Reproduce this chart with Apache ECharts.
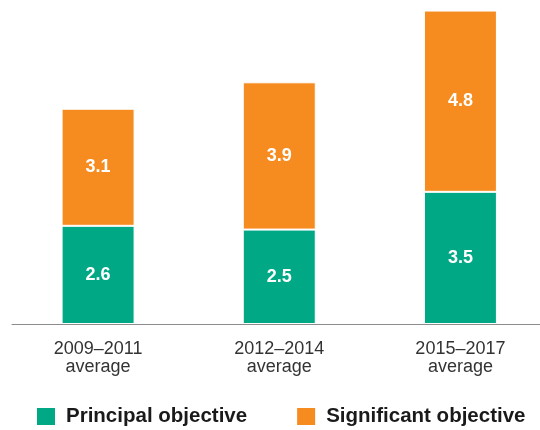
<!DOCTYPE html>
<html>
<head>
<meta charset="utf-8">
<script src="https://cdn.jsdelivr.net/npm/echarts@6/dist/echarts.min.js"></script>
<style>
  html, body { margin: 0; padding: 0; background: #fff; }
  #chart { width: 540px; height: 430px; }
</style>
</head>
<body>
<div id="chart"></div>
<script>
  // periods on the x axis
  var periods = ['2009–2011\naverage', '2012–2014\naverage', '2015–2017\naverage'];
  var seriesNames = ['Principal objective', 'Significant objective'];
  var principal = [2.6, 2.5, 3.5];
  var significant = [3.1, 3.9, 4.8];

  var green = '#00a886';
  var orange = '#f68b1f';
  var font = 'Liberation Sans, Arial, Helvetica, sans-serif';

  var myChart = echarts.init(document.getElementById('chart'));

  var barLabel = {
    show: true,
    position: 'inside',
    color: '#fff',
    fontFamily: font,
    fontWeight: 'bold',
    fontSize: 18
  };

  var option = {
    animation: false,
    color: [green, orange],
    legend: {
      data: seriesNames,
      left: 30,
      top: 401,
      icon: 'rect',
      itemWidth: 20,
      itemHeight: 19,
      itemGap: 48,
      textStyle: {
        fontFamily: font,
        fontSize: 20.5,
        fontWeight: 'bold',
        color: '#1a1a1a',
        padding: [0, 0, 0, 5]
      }
    },
    grid: [
      // last category sits past the right edge, so let the grid overflow
      { left: 7.5, right: -11, top: 3, bottom: 106, outerBoundsMode: 'none', containLabel: false },
      // only used for the baseline, which starts a bit further in
      { left: 12, right: 0, top: 3, bottom: 106, outerBoundsMode: 'none' }
    ],
    xAxis: [
      {
        type: 'category',
        data: periods,
        gridIndex: 0,
        axisLine: { show: false },
        axisTick: { show: false },
        axisLabel: {
          margin: 16,
          fontFamily: font,
          fontSize: 18,
          lineHeight: 18,
          color: '#333'
        }
      },
      {
        type: 'value',
        gridIndex: 1,
        axisLine: { show: true, onZero: false, lineStyle: { color: '#8c8c8c', width: 1 } },
        axisTick: { show: false },
        axisLabel: { show: false },
        splitLine: { show: false }
      }
    ],
    yAxis: [
      { type: 'value', gridIndex: 0, min: 0, max: 8.5, show: false },
      { type: 'value', gridIndex: 1, show: false }
    ],
    series: [
      {
        name: seriesNames[0],
        type: 'bar',
        stack: 'total',
        barWidth: 73,
        data: principal,
        itemStyle: { color: green, borderColor: '#fff', borderWidth: 1 },
        label: barLabel
      },
      {
        name: seriesNames[1],
        type: 'bar',
        stack: 'total',
        barWidth: 73,
        data: significant,
        itemStyle: { color: orange, borderColor: '#fff', borderWidth: 1 },
        label: barLabel
      }
    ]
  };
  myChart.setOption(option);
</script>
</body>
</html>
